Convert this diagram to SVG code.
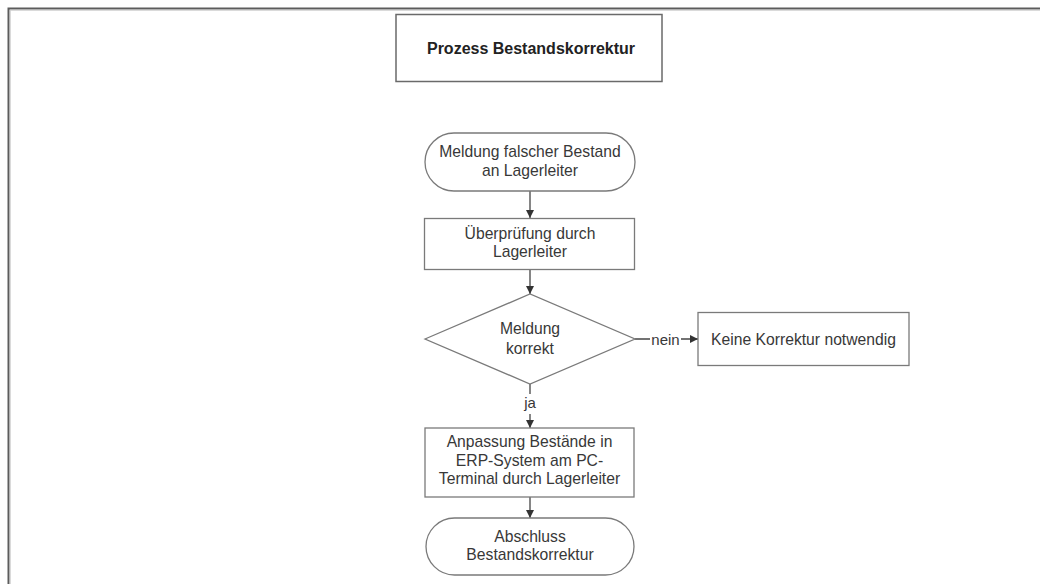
<svg xmlns="http://www.w3.org/2000/svg" width="1040" height="584" viewBox="0 0 1040 584">
  <style>
    .shape { fill: #ffffff; stroke: #7a7a7a; stroke-width: 1.3; }
    .title { fill: #ffffff; stroke: #6a6a6a; stroke-width: 1.5; }
    .txt { font-family: "Liberation Sans", Arial, sans-serif; font-size: 15.7px; fill: #383838; text-anchor: middle; }
    .ttl { font-family: "Liberation Sans", Arial, sans-serif; font-size: 16px; font-weight: bold; fill: #222222; text-anchor: middle; }
    .edge { fill: none; stroke: #444444; stroke-width: 1.3; }
    .lbl { font-family: "Liberation Sans", Arial, sans-serif; font-size: 15px; fill: #383838; text-anchor: middle; }
  </style>
  <defs>
    <marker id="arrow" viewBox="0 0 10 10" refX="10" refY="5" markerWidth="8" markerHeight="8" markerUnits="userSpaceOnUse" orient="auto">
      <path d="M0,0 L10,5 L0,10 z" fill="#333333"/>
    </marker>
  </defs>

  <rect width="1040" height="584" fill="#ffffff"/>

  <!-- page frame (only top and left edges fall inside the view) -->
  <g id="frame">
    <path d="M8.5,584 L8.5,8.5 L1040,8.5" fill="none" stroke="#5c5c5c" stroke-width="2"/>
    <path d="M10.2,584 L10.2,10.2 L1040,10.2" fill="none" stroke="#bdbdbd" stroke-width="0.8"/>
  </g>

  <g id="title">
    <rect class="title" x="396" y="14.5" width="266" height="67"/>
    <text class="ttl" x="531" y="53.5">Prozess Bestandskorrektur</text>
  </g>

  <g id="connectors">
    <line class="edge" x1="530" y1="191" x2="530" y2="218" marker-end="url(#arrow)"/>
    <line class="edge" x1="530" y1="269" x2="530" y2="294" marker-end="url(#arrow)"/>
    <line class="edge" x1="635" y1="339" x2="698" y2="339" marker-end="url(#arrow)"/>
    <rect x="650" y="330" width="31" height="18" fill="#ffffff"/>
    <text class="lbl" x="665.5" y="344.5">nein</text>
    <line class="edge" x1="530" y1="384" x2="530" y2="428" marker-end="url(#arrow)"/>
    <rect x="520" y="394" width="20" height="20" fill="#ffffff"/>
    <text class="lbl" x="530" y="408">ja</text>
    <line class="edge" x1="530" y1="497" x2="530" y2="518" marker-end="url(#arrow)"/>
  </g>

  <g id="start">
    <rect class="shape" x="425" y="133" width="210" height="58" rx="29" ry="29"/>
    <text class="txt" x="530" y="157">Meldung falscher Bestand</text>
    <text class="txt" x="530" y="175.5">an Lagerleiter</text>
  </g>

  <g id="check">
    <rect class="shape" x="424.5" y="218.5" width="210" height="51"/>
    <text class="txt" x="530" y="238.5">Überprüfung durch</text>
    <text class="txt" x="530" y="257">Lagerleiter</text>
  </g>

  <g id="decision">
    <polygon class="shape" points="425,339 530,294 635,339 530,384"/>
    <text class="txt" x="530" y="334">Meldung</text>
    <text class="txt" x="530" y="353.5">korrekt</text>
  </g>

  <g id="no-correction">
    <rect class="shape" x="698" y="312.5" width="211" height="53"/>
    <text class="txt" x="803.5" y="345">Keine Korrektur notwendig</text>
  </g>

  <g id="adjust">
    <rect class="shape" x="425" y="428" width="209" height="69"/>
    <text class="txt" x="529.5" y="447">Anpassung Bestände in</text>
    <text class="txt" x="529.5" y="465.5">ERP-System am PC-</text>
    <text class="txt" x="529.5" y="484">Terminal durch Lagerleiter</text>
  </g>

  <g id="end">
    <rect class="shape" x="426" y="518" width="208" height="57" rx="28.5" ry="28.5"/>
    <text class="txt" x="530" y="542">Abschluss</text>
    <text class="txt" x="530" y="560">Bestandskorrektur</text>
  </g>
</svg>
